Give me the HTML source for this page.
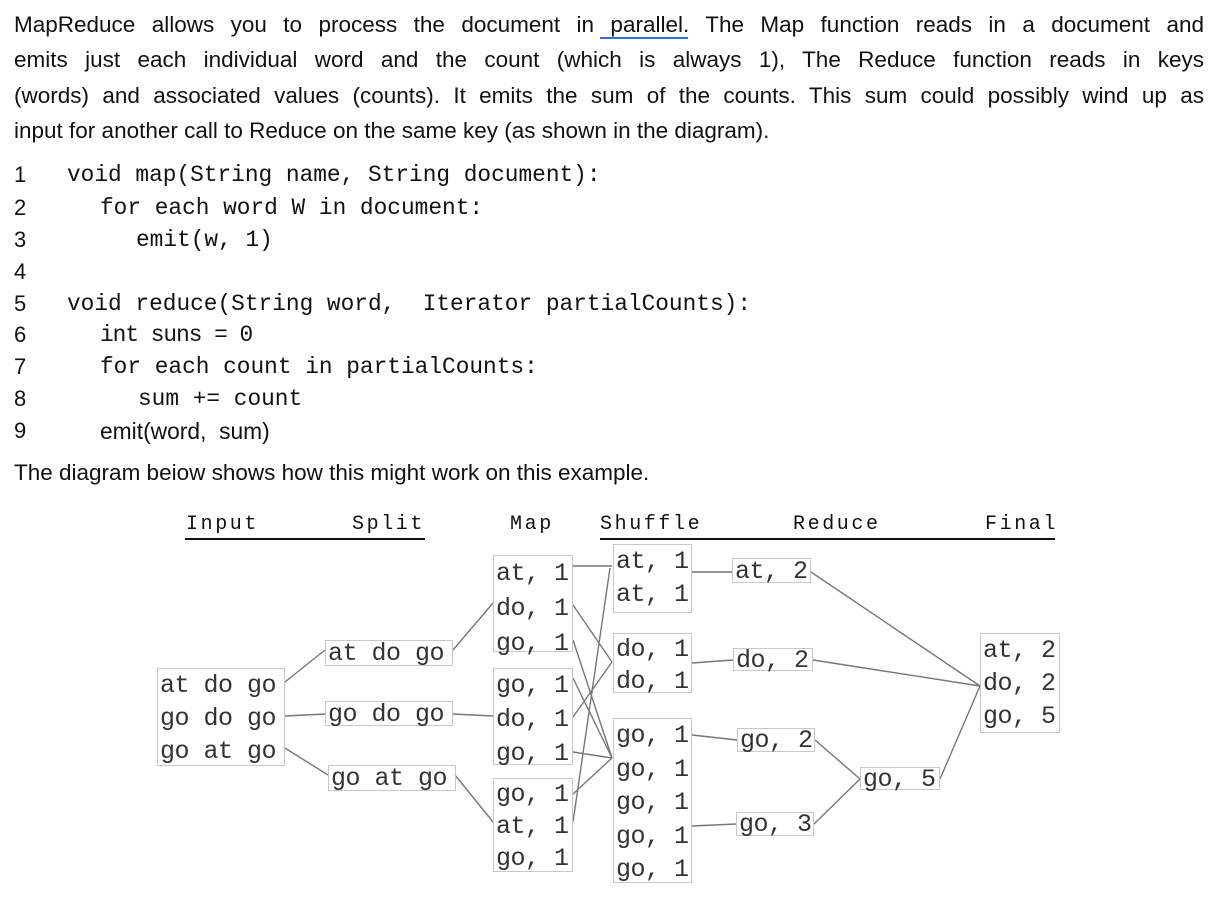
<!DOCTYPE html>
<html><head><meta charset="utf-8"><style>
body{margin:0;width:1220px;height:897px;background:#fff;position:relative;overflow:hidden;font-family:"Liberation Sans",sans-serif;color:#111}
.p{position:absolute;left:14px;width:1190px;font-size:22.5px;text-align:justify;text-align-last:justify;white-space:nowrap;line-height:1}
.c{position:absolute;font-family:"Liberation Mono",monospace;font-size:22.8px;line-height:1;white-space:pre;color:#111}
.n{position:absolute;left:14px;font-size:22px;line-height:1}
.h{position:absolute;font-family:"Liberation Mono",monospace;font-size:20px;letter-spacing:2.6px;line-height:1;top:515px}
.b{position:absolute;border:1.5px solid #c8c8c8;font-family:"Liberation Mono",monospace;font-size:25px;color:#333;line-height:34px;padding:0 2px;box-sizing:border-box;white-space:pre;letter-spacing:-0.5px}
</style></head><body>
<div class="p" style="top:14px">MapReduce allows you to process the document in parallel. The Map function reads in a document and</div>
<div style="position:absolute;left:600px;top:37px;width:88px;height:1.8px;background:#3a6bc8"></div>
<div class="p" style="top:49px">emits just each individual word and the count (which is always 1), The Reduce function reads in keys</div>
<div class="p" style="top:85px">(words) and associated values (counts). It emits the sum of the counts. This sum could possibly wind up as</div>
<div class="p" style="top:120px;width:auto;text-align:left;text-align-last:left">input for another call to Reduce on the same key (as shown in the diagram).</div>

<div class="n" style="top:164px">1</div><div class="c" style="left:67px;top:164px">void map(String name, String document):</div>
<div class="n" style="top:197px">2</div><div class="c" style="left:100px;top:197px">for each word W in document:</div>
<div class="n" style="top:229px">3</div><div class="c" style="left:136px;top:229px">emit(w, 1)</div>
<div class="n" style="top:261px">4</div>
<div class="n" style="top:293px">5</div><div class="c" style="left:67px;top:293px">void reduce(String word,  Iterator partialCounts):</div>
<div class="n" style="top:324px">6</div><div class="c" style="left:100px;top:324px;letter-spacing:-1px">int suns = 0</div>
<div class="n" style="top:356px">7</div><div class="c" style="left:100px;top:356px">for each count in partialCounts:</div>
<div class="n" style="top:388px">8</div><div class="c" style="left:138px;top:388px">sum += count</div>
<div class="n" style="top:420px">9</div><div class="c" style="left:100px;top:420px;font-family:'Liberation Sans',sans-serif">emit(word,  sum)</div>
<div class="p" style="top:462px;width:auto;text-align:left;text-align-last:left">The diagram beiow shows how this might work on this example.</div>

<div class="h" style="left:186px">Input</div>
<div class="h" style="left:352px">Split</div>
<div class="h" style="left:510px">Map</div>
<div class="h" style="left:600px">Shuffle</div>
<div class="h" style="left:793px">Reduce</div>
<div class="h" style="left:985px">Final</div>
<div style="position:absolute;left:185px;top:538px;width:240px;height:2px;background:#111"></div>
<div style="position:absolute;left:600px;top:538px;width:455px;height:2px;background:#111"></div>

<svg width="1220" height="897" style="position:absolute;left:0;top:0" stroke="#777" stroke-width="1.4" fill="none">
<path d="M285 682L325 650M285 716L325 714M285 748L328 775M453 650L493 603M453 714L493 716M455 775L493 822"/>
<path d="M573 566L612 566M573 605L612 662M573 640L612 758M573 678L612 758M573 717L612 662M573 752L612 758M573 794L612 758M573 822L610 568"/>
<path d="M692 572L732 572M692 663L733 660M692 735L737 740M692 826L736 824"/>
<path d="M811 572L980 686M813 660L980 686M815 740L860 779M814 824L860 779M940 779L980 686"/>
</svg>

<div class="b" style="left:157px;top:668px;width:128px;height:98px;line-height:33px">at do go
go do go
go at go</div>
<div class="b" style="left:325px;top:640px;width:128px;height:26px;line-height:26px">at do go</div>
<div class="b" style="left:325px;top:701px;width:128px;height:25px;line-height:25px">go do go</div>
<div class="b" style="left:328px;top:765px;width:128px;height:26px;line-height:26px">go at go</div>
<div class="b" style="left:493px;top:555px;width:80px;height:97px;line-height:35px;padding-top:0">at, 1
do, 1
go, 1</div>
<div class="b" style="left:493px;top:668px;width:80px;height:97px;line-height:34px">go, 1
do, 1
go, 1</div>
<div class="b" style="left:493px;top:778px;width:80px;height:94px;line-height:32px">go, 1
at, 1
go, 1</div>
<div class="b" style="left:613px;top:544px;width:79px;height:69px;line-height:33px">at, 1
at, 1</div>
<div class="b" style="left:613px;top:633px;width:79px;height:60px;line-height:32px">do, 1
do, 1</div>
<div class="b" style="left:613px;top:718px;width:79px;height:165px;line-height:33.5px">go, 1
go, 1
go, 1
go, 1
go, 1</div>
<div class="b" style="left:732px;top:558px;width:79px;height:25px;line-height:25px">at, 2</div>
<div class="b" style="left:733px;top:648px;width:80px;height:23px;line-height:24px">do, 2</div>
<div class="b" style="left:737px;top:728px;width:78px;height:24px;line-height:24px">go, 2</div>
<div class="b" style="left:736px;top:812px;width:78px;height:24px;line-height:24px">go, 3</div>
<div class="b" style="left:860px;top:767px;width:80px;height:23px;line-height:24px">go, 5</div>
<div class="b" style="left:980px;top:633px;width:80px;height:100px;line-height:33px">at, 2
do, 2
go, 5</div>
</body></html>
